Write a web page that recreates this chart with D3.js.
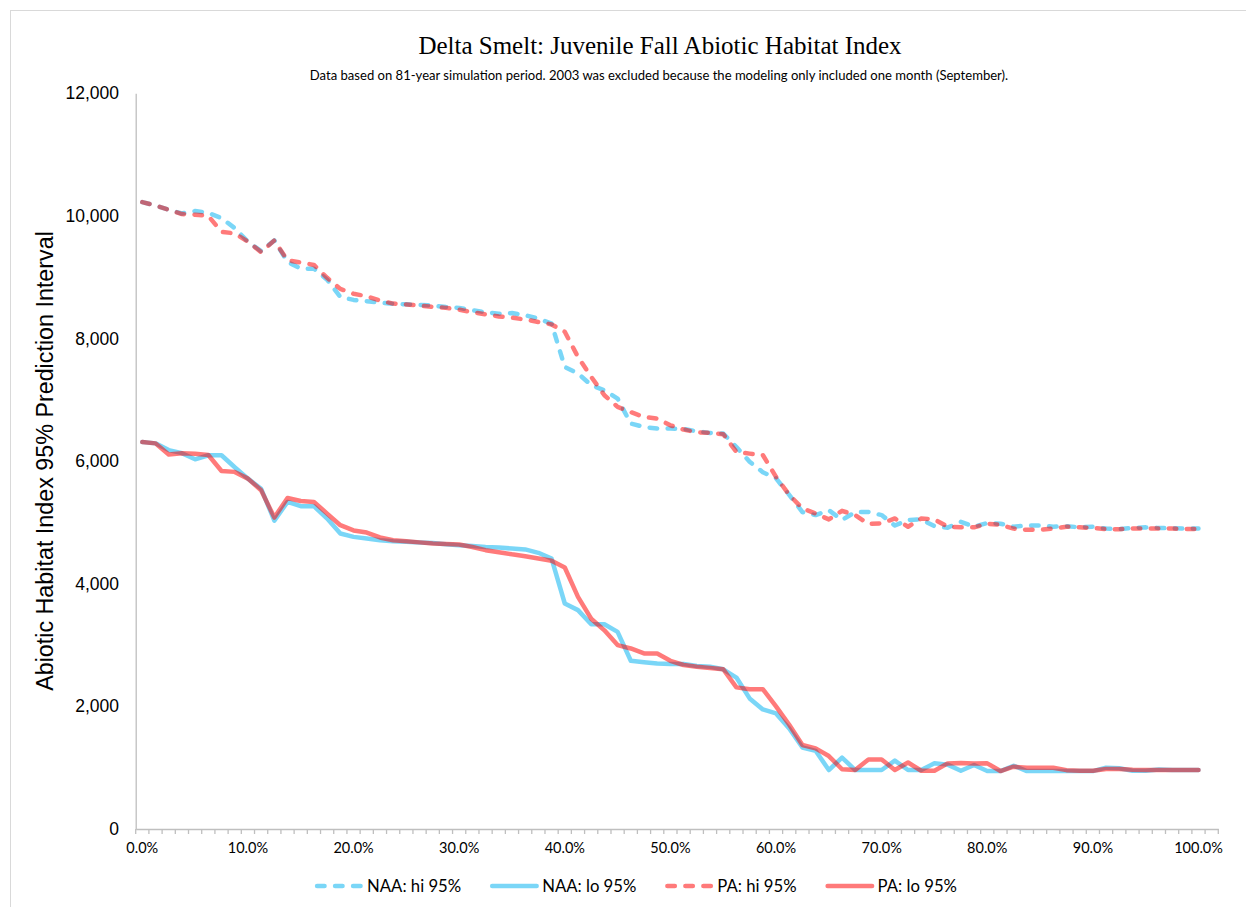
<!DOCTYPE html>
<html><head><meta charset="utf-8">
<script src="https://cdn.jsdelivr.net/npm/d3@7/dist/d3.min.js"></script>
<style>body{margin:0;background:#fff}svg{display:block}</style>
</head><body>
<svg id="chart" width="1246" height="907"></svg>
<script>
// ---- data ----
const categories = d3.range(81).map(i => (i * 1.25).toFixed(1) + "%");
const tickLabels = ["0.0%","10.0%","20.0%","30.0%","40.0%","50.0%","60.0%","70.0%","80.0%","90.0%","100.0%"];
const yTicks = [0, 2000, 4000, 6000, 8000, 10000, 12000];
const seriesNames = ["NAA: hi 95%", "NAA: lo 95%", "PA: hi 95%", "PA: lo 95%"];

const naaHi = [10225,10170,10100,10040,10080,10050,9965,9800,9580,9425,
  9600,9250,9140,9140,8960,8677,8630,8610,8585,8565,
  8558,8548,8538,8514,8500,8460,8430,8405,8415,8380,
  8324,8242,7536,7430,7240,7155,7020,6613,6558,6531,
  6531,6525,6487,6460,6450,6230,5990,5820,5720,5450,
  5170,5120,5200,5040,5170,5170,5120,4950,5040,5050,
  4940,4915,5010,4930,4990,4980,4930,4950,4950,4930,
  4940,4920,4930,4900,4890,4910,4920,4910,4905,4900,4900];
const naaLo = [6313,6290,6180,6130,6030,6096,6096,5900,5715,5550,
  5030,5335,5265,5265,5064,4819,4765,4738,4711,4695,
  4685,4675,4665,4645,4630,4615,4600,4590,4575,4560,
  4505,4410,3678,3570,3340,3340,3216,2744,2720,2700,
  2690,2690,2660,2646,2605,2470,2130,1950,1885,1640,
  1330,1275,962,1165,962,962,962,1115,962,962,
  1071,1050,950,1043,945,945,1032,945,945,945,
  945,945,945,1000,990,950,950,970,962,962,962];
const paHi = [10225,10170,10100,10030,10020,10000,9740,9715,9580,9410,
  9600,9275,9240,9200,8990,8810,8730,8690,8620,8570,
  8555,8540,8514,8500,8470,8430,8395,8360,8340,8310,
  8270,8230,8110,7700,7375,7075,6885,6800,6720,6694,
  6585,6515,6470,6460,6440,6150,6123,6100,5743,5450,
  5230,5145,5050,5190,5120,4975,4985,5065,4930,5065,
  5050,4930,4920,4920,4980,4960,4900,4880,4880,4900,
  4930,4920,4910,4890,4890,4900,4900,4900,4900,4895,4895];
const paLo = [6313,6290,6110,6130,6120,6100,5840,5825,5715,5526,
  5080,5400,5350,5335,5145,4955,4870,4835,4755,4710,
  4695,4675,4657,4650,4640,4600,4548,4515,4480,4450,
  4412,4375,4265,3787,3430,3240,3000,2945,2864,2864,
  2744,2675,2645,2627,2605,2310,2280,2280,2000,1700,
  1370,1315,1190,975,962,1135,1135,962,1085,950,
  950,1070,1075,1070,1071,945,1016,1000,1000,1000,
  960,950,950,978,978,965,962,962,962,962,962];

// ---- styles ----
const seriesData = [naaHi, naaLo, paHi, paLo];
const seriesColor = ["#00b0f0", "#00b0f0", "#ff0000", "#ff0000"];
const seriesDashed = [true, false, true, false];
const lineOpacity = 0.52;
const lineWidth = 4.5;
const dashPattern = "7.5,10.5";
const axisColor = "#bfbfbf";
const calibriLike = "Lato, 'Open Sans', sans-serif";

const svg = d3.select("#chart");
const M = {left: 135.7, right: 1218.3, top: 93.3, bottom: 829};

// chart border
svg.append("rect").attr("x", 10.5).attr("y", 10.5).attr("width", 1320).attr("height", 1000)
  .attr("fill", "none").attr("stroke", "#d9d9d9").attr("stroke-width", 1);

// scales
const x = d3.scaleBand().domain([...categories, ""]).range([M.left, M.right]).paddingInner(0).paddingOuter(0);
const cx = c => x(c) + x.bandwidth() / 2;
const y = d3.scaleLinear().domain([0, 12000]).range([M.bottom, M.top]);

// y axis
const yAxis = svg.append("g").attr("transform", `translate(${M.left},0)`)
  .call(d3.axisLeft(y).tickValues(yTicks).tickFormat(d3.format(",")).tickSize(0).tickPadding(16.7));
yAxis.select(".domain").attr("stroke", axisColor).attr("stroke-width", 1.3);
yAxis.selectAll("text").attr("font-family", "'Liberation Sans', Arial, sans-serif").attr("font-size", 17.5).attr("fill", "#000");

// x axis
const labelCats = categories.filter((d, i) => i % 8 === 0);
const xAxis = svg.append("g").attr("transform", `translate(0,${M.bottom})`)
  .call(d3.axisBottom(x).tickValues(labelCats).tickFormat((d, i) => tickLabels[i]).tickSize(0).tickPadding(14));
xAxis.select(".domain").attr("stroke", axisColor).attr("stroke-width", 1.3);
xAxis.selectAll("text").attr("font-family", calibriLike).attr("font-size", 14.5).attr("fill", "#000");
// category boundary tick marks
const bounds = [...x.domain().map(d => x(d)), M.right];
svg.append("g").selectAll("line").data(bounds).join("line")
  .attr("x1", d => d).attr("x2", d => d).attr("y1", M.bottom).attr("y2", M.bottom + 5)
  .attr("stroke", axisColor).attr("stroke-width", 1.3);

// lines
const line = d3.line().x((d, i) => cx(categories[i])).y(d => y(d));
seriesData.forEach((s, k) => {
  svg.append("path").datum(s).attr("d", line)
    .attr("fill", "none").attr("stroke", seriesColor[k]).attr("stroke-opacity", lineOpacity)
    .attr("stroke-width", lineWidth).attr("stroke-linejoin", "round").attr("stroke-linecap", "round")
    .attr("stroke-dasharray", seriesDashed[k] ? dashPattern : null);
});

// title
svg.append("text").attr("x", 660).attr("y", 54).attr("text-anchor", "middle")
  .attr("font-family", "'Liberation Serif', 'Times New Roman', serif").attr("font-size", 25)
  .text("Delta Smelt: Juvenile Fall Abiotic Habitat Index");
const sub = svg.append("text").attr("x", 659).attr("y", 80).attr("text-anchor", "middle")
  .attr("font-family", calibriLike).attr("font-size", 13)
  .text("Data based on 81-year simulation period. 2003 was excluded because the modeling only included one month (September).");
const sw = sub.node().getComputedTextLength();
sub.attr("font-size", 13 * 699 / sw);

// y title
svg.append("text").attr("transform", "translate(53,461) rotate(-90)").attr("text-anchor", "middle")
  .attr("font-family", "'Liberation Sans', Arial, sans-serif").attr("font-size", 23.3)
  .text("Abiotic Habitat Index 95% Prediction Interval");

// legend
const leg = svg.append("g");
let lx = 0;
seriesNames.forEach((name, k) => {
  const g = leg.append("g").attr("transform", `translate(${lx},0)`);
  g.append("line").attr("x1", 0).attr("x2", 44.5).attr("y1", 0).attr("y2", 0)
    .attr("stroke", seriesColor[k]).attr("stroke-opacity", lineOpacity).attr("stroke-width", lineWidth)
    .attr("stroke-linecap", "round").attr("stroke-dasharray", seriesDashed[k] ? dashPattern : null);
  const t = g.append("text").attr("x", 50).attr("y", 6).attr("font-family", calibriLike).attr("font-size", 16.7).text(name);
  lx += 50 + t.node().getComputedTextLength() + 31;
});
const legW = lx - 31;
leg.attr("transform", `translate(${637 - legW / 2},886)`);
</script>
</body></html>
